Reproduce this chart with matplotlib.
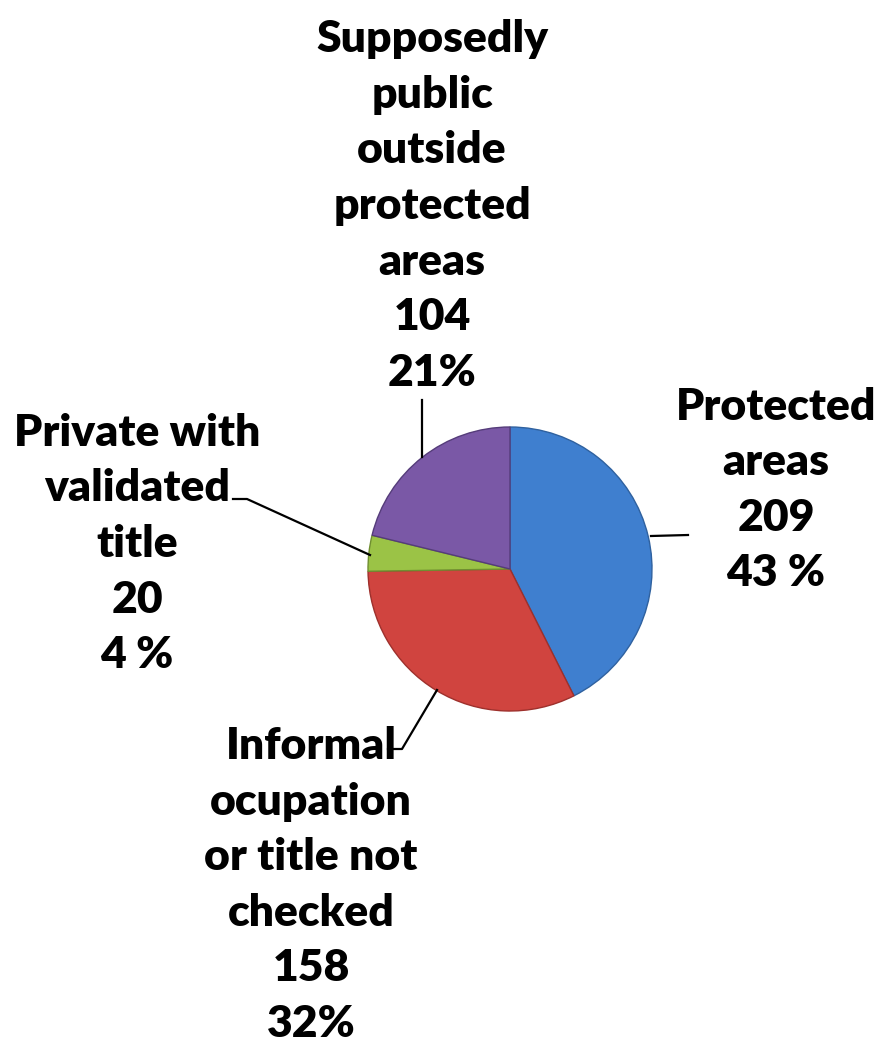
import matplotlib
matplotlib.use("Agg")
import matplotlib.pyplot as plt

labels = ["Protected\nareas", "Informal\nocupation\nor title not\nchecked",
          "Private with\nvalidated\ntitle", "Supposedly\npublic\noutside\nprotected\nareas"]
values = [209, 158, 20, 104]
pct_text = ["43 %", "32%", "4 %", "21%"]
colors = ["#3F7FCF", "#D0443F", "#9BC346", "#7A58A6"]
edges = ["#2F619F", "#9E302C", "#6F8E30", "#553C7A"]

plt.rcParams["font.family"] = ["Lato", "DejaVu Sans"]

fig = plt.figure(figsize=(8.77, 10.47), dpi=100)
ax = fig.add_axes([0, 0, 1, 1])

H = 1047
wedges, _ = ax.pie(values, colors=colors, startangle=90, counterclock=False,
                   center=(510, H - 569), radius=142, frame=True,
                   wedgeprops=dict(linewidth=1.0))
for w, ec in zip(wedges, edges):
    w.set_edgecolor(ec)
ax.set_xlim(0, 877)
ax.set_ylim(0, 1047)
ax.set_aspect("equal")
ax.axis("off")

# label positions (image pixels, block centres)
pos = [(776, 490), (311, 885), (137, 544), (432, 206)]
for lab, v, p, (x, y) in zip(labels, values, pct_text, pos):
    ax.text(x, H - y, f"{lab}\n{v}\n{p}", ha="center", va="center",
            fontsize=32, fontweight="heavy", linespacing=1.47, color="black")

# leader lines
lw = 1.6
ax.plot([422, 422], [H - 400, H - 457], color="black", lw=lw)
ax.plot([651, 688], [H - 536, H - 535], color="black", lw=lw)
ax.plot([233, 247, 370], [H - 499, H - 499, H - 555], color="black", lw=lw)
ax.plot([388, 402, 437], [H - 749, H - 749, H - 690], color="black", lw=lw)

fig.savefig("out.png", dpi=100, facecolor="white")
